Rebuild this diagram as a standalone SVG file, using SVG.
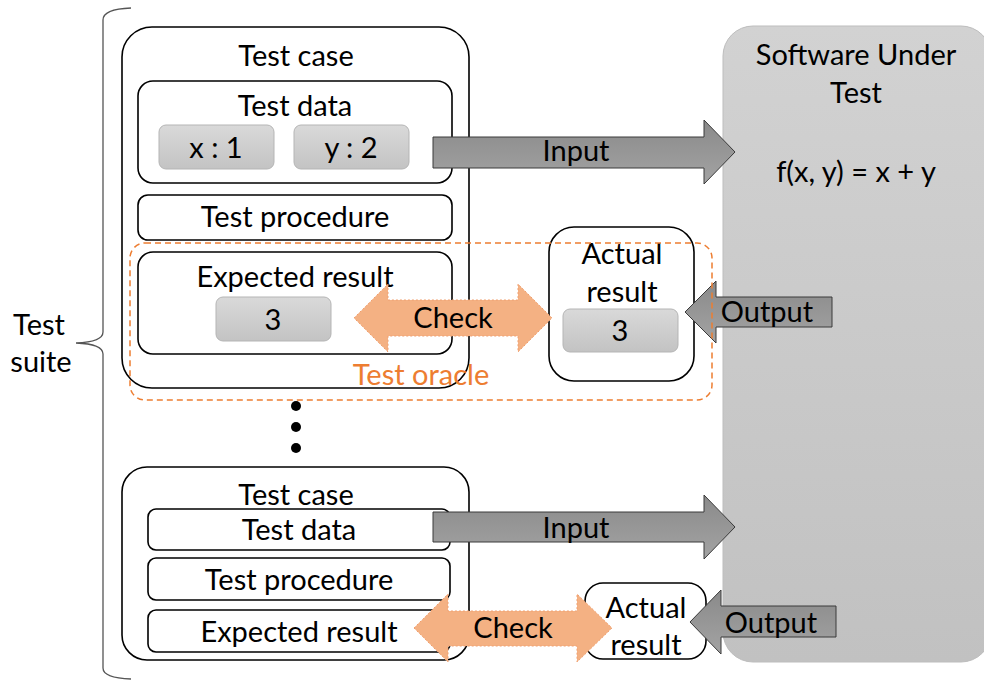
<svg xmlns="http://www.w3.org/2000/svg" width="984" height="680" viewBox="0 0 984 680">
<defs>
<linearGradient id="gBox" x1="0" y1="0" x2="0" y2="1"><stop offset="0" stop-color="#d9d9d9"/><stop offset="1" stop-color="#c3c3c3"/></linearGradient>
<linearGradient id="gSut" x1="0" y1="0" x2="0" y2="1"><stop offset="0" stop-color="#d2d2d2"/><stop offset="1" stop-color="#c1c1c1"/></linearGradient>
<linearGradient id="gArr" x1="0" y1="0" x2="0" y2="1"><stop offset="0" stop-color="#8a8a8a"/><stop offset="1" stop-color="#a3a3a3"/></linearGradient>
</defs>
<style>
text{font-family:Lato,"Open Sans","Liberation Sans",sans-serif;font-size:29px;fill:#000;text-anchor:middle}
.box{fill:#fff;stroke:#000;stroke-width:1.6}
.val{fill:url(#gBox);stroke:#b5b5b5;stroke-width:1}
.io{fill:url(#gArr);stroke:#3a3a3a;stroke-width:1}
.chk{fill:#F4B183;stroke:#F0A070;stroke-width:1;stroke-dasharray:2 2}
.oracle{fill:none;stroke:#ED7D31;stroke-width:1.5;stroke-dasharray:6 4}
</style>
<g id="suite">
<path d="M131,8 Q103,9 103,20 L103,332 Q103,342 76,343 Q103,344 103,354 L103,668 Q103,678 131,679" fill="none" stroke="#555" stroke-width="1.3"/>
<text x="39" y="335">Test</text>
<text x="41" y="372">suite</text>
</g>
<g id="sut">
<rect x="723" y="26" width="268" height="636" rx="30" fill="url(#gSut)" stroke="#bdbdbd" stroke-width="1"/>
<text x="856" y="65">Software Under</text>
<text x="856" y="103">Test</text>
<text x="856" y="182">f(x, y) = x + y</text>
</g>
<g id="testcase1">
<rect class="box" x="122" y="27" width="347" height="361" rx="30"/>
<text x="296" y="66">Test case</text>
</g>
<g id="testdata1">
<rect class="box" x="138" y="81" width="314" height="102" rx="15"/>
<text x="295" y="116">Test data</text>
<rect class="val" x="159" y="125" width="115" height="44" rx="7"/>
<text x="216" y="158">x : 1</text>
<rect class="val" x="294" y="125" width="115" height="44" rx="7"/>
<text x="351" y="158">y : 2</text>
</g>
<g id="testproc1">
<rect class="box" x="138" y="195" width="314" height="45" rx="10"/>
<text x="295" y="227">Test procedure</text>
</g>
<g id="expected1">
<rect class="box" x="138" y="252" width="314" height="102" rx="15"/>
<text x="295" y="287">Expected result</text>
<rect class="val" x="216" y="297" width="115" height="44" rx="7"/>
<text x="273" y="330">3</text>
</g>
<g id="actual1">
<rect class="box" x="549" y="227" width="145" height="154" rx="25"/>
<text x="622" y="264">Actual</text>
<text x="622" y="302">result</text>
<rect class="val" x="563" y="309" width="115" height="43" rx="7"/>
<text x="620" y="341">3</text>
</g>
<g id="dots">
<circle cx="296" cy="406" r="5"/>
<circle cx="296" cy="427" r="5"/>
<circle cx="296" cy="448" r="5"/>
</g>
<g id="testcase2">
<rect class="box" x="122" y="467" width="347" height="193" rx="25"/>
<text x="296" y="505">Test case</text>
</g>
<g id="testdata2">
<rect class="box" x="148" y="509" width="302" height="41" rx="8"/>
<text x="299" y="540">Test data</text>
</g>
<g id="testproc2">
<rect class="box" x="148" y="558" width="302" height="42" rx="8"/>
<text x="299" y="590">Test procedure</text>
</g>
<g id="expected2">
<rect class="box" x="148" y="610" width="302" height="42" rx="8"/>
<text x="299" y="642">Expected result</text>
</g>
<g id="actual2">
<rect class="box" x="585" y="583" width="121" height="76" rx="18"/>
<text x="646" y="618">Actual</text>
<text x="646" y="655">result</text>
</g>
<g id="connectors">
<polygon class="io" points="433,137 704,137 704,120 735,152 704,184 704,168 433,168"/>
<text x="576" y="161">Input</text>
<polygon class="io" points="433,512 704,512 704,495 735,527 704,559 704,542 433,542"/>
<text x="576" y="538">Input</text>
<polygon class="io" points="832,297 716,297 716,281 685,312 716,343 716,327 832,327"/>
<text x="767" y="322">Output</text>
<polygon class="io" points="836,606 721,606 721,590 690,622 721,654 721,637 836,637"/>
<text x="771" y="633">Output</text>
<polygon class="chk" points="354,318 388,284 388,300 518,300 518,284 552,318 518,352 518,336 388,336 388,352"/>
<text x="453" y="328">Check</text>
<polygon class="chk" points="414,628 448,594 448,611 577,611 577,594 612,628 577,662 577,646 448,646 448,662"/>
<text x="513" y="638">Check</text>
</g>
<g id="oracle">
<rect class="oracle" x="130" y="243" width="582" height="157" rx="15"/>
<text x="421" y="385" style="fill:#ED7D31">Test oracle</text>
</g>
</svg>
